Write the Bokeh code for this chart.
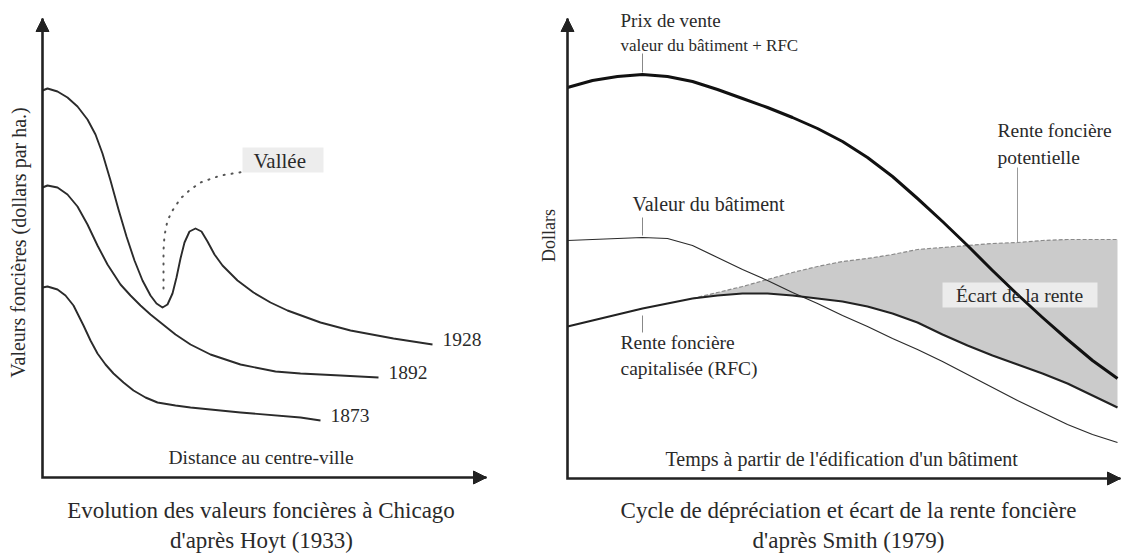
from bokeh.plotting import figure
from bokeh.layouts import row
from bokeh.models import Arrow, NormalHead, Range1d
from bokeh.core.properties import value
from bokeh.embed import file_html
from bokeh.resources import INLINE

FONT = "Liberation Serif"
INK = "#222222"
TXT = "#2a2a2a"

# ---------------- Left panel: Hoyt (1933) ----------------
dist_1928 = [0, 1, 3, 5, 7, 9, 10.6, 12, 13.6, 15.2, 16.8, 18.4, 20, 21.6, 22.8, 24, 25, 26, 26.8,
             27.6, 28.4, 29.4, 30.6, 31.8, 33, 34.4, 36, 37.6, 39, 42.2, 45.6, 49, 55.6, 61.6, 70.2, 78]
val_1928 = [77.4, 77.8, 77.2, 76, 74.2, 71.6, 68.6, 64.8, 59.4, 53.6, 48.2, 43.4, 39.4, 36.4, 34.8,
            34, 34.6, 36.8, 40, 43.8, 47, 49.2, 49.8, 49.2, 47.2, 44.6, 42.4, 40.8, 39.4, 37, 35,
            33.4, 31, 29.4, 27.8, 26.6]
dist_1892 = [0, 1, 3, 5, 7, 9, 11, 13, 15.6, 17.6, 19.6, 21.6, 23.6, 26.6, 29.6, 33.6, 39.6, 46.6,
             51.6, 59.6, 67.2]
val_1892 = [58, 58.4, 58, 56.6, 54.2, 50.6, 46.4, 42.6, 38.6, 36.4, 34.4, 32.6, 31, 28.6, 26.6,
            24.6, 22.6, 21.2, 20.8, 20.4, 20]
dist_1873 = [0, 1, 3, 4.6, 6.2, 8.2, 9.6, 11, 12.6, 14.2, 16.2, 18.2, 20.6, 23, 26.6, 29.6, 39.6, 51.6, 55.6]
val_1873 = [38, 38.2, 37.6, 36.4, 34.4, 30.4, 27.4, 24.8, 22.6, 20.8, 19, 17.4, 16, 15, 14.4, 14,
            13, 12, 11.4]
years = ["1928", "1892", "1873"]

vallee_x = [24.2, 24.2, 24.2, 24.4, 25, 26, 27.6, 29.6, 31.6, 35.6, 40.6]
vallee_y = [37.8, 42.4, 45.4, 48.4, 51.4, 53.4, 55.8, 57.6, 59, 60.4, 61.2]

# ---------------- Right panel: Smith (1979) ----------------
time = [0, 5, 10, 15, 20, 25, 30, 35, 40, 45, 50, 55, 60, 65, 70, 75, 80, 85, 90, 95, 100, 105, 110]
prix_vente = [78.2, 79.6, 80.4, 80.8, 80.4, 79.4, 77.8, 76, 74.2, 72.2, 70, 67.4, 64.2, 60.4, 56,
              51.4, 46.6, 41.6, 36.8, 32.2, 27.8, 23.6, 20]
valeur_batiment = [47.6, 47.8, 48, 48.2, 48, 46.6, 44.2, 41.8, 39.6, 37.2, 35, 32.6, 30.4, 28, 25.8,
                   23.4, 20.8, 18.2, 15.6, 13.2, 10.8, 8.8, 7.2]
rente_capitalisee = [30.4, 31.6, 32.8, 34, 35, 36, 36.6, 37, 37, 36.6, 36, 35.4, 34.4, 33, 31.2,
                     28.8, 26.6, 24.6, 22.8, 21, 19, 16.6, 14.2]
time_potentielle = time[5:]
rente_potentielle = [36, 37.2, 38.4, 39.8, 41.2, 42.4, 43.4, 44, 44.8, 45.8, 46.2, 46.6, 47, 47.2,
                     47.6, 47.8, 47.8, 47.8]


def base_fig(width, xr, yr):
    p = figure(width=width, height=555, x_range=Range1d(*xr), y_range=Range1d(*yr),
               output_backend="svg", toolbar_location=None, min_border=0,
               x_axis_location=None, y_axis_location=None)
    p.outline_line_color = None
    p.background_fill_color = "white"
    p.border_fill_color = "white"
    p.grid.visible = False
    return p


def txt(p, x, y, s, size, align="left", angle=0.0):
    p.text(x=[x], y=[y], text=[s], text_font=value(FONT), text_font_size=size,
           text_color=TXT, text_align=align, text_baseline="middle", angle=angle)


def axes(p, xtip, ytip):
    p.line([0, 0, xtip], [ytip, 0, 0], line_color=INK, line_width=2.6, line_join="miter")
    p.add_layout(Arrow(x_start=0, y_start=ytip - 4, x_end=0, y_end=ytip, line_alpha=0,
                       end=NormalHead(size=13, fill_color=INK, line_color=INK, line_width=1)))
    p.add_layout(Arrow(x_start=xtip - 4, y_start=0, x_end=xtip, y_end=0, line_alpha=0,
                       end=NormalHead(size=13, fill_color=INK, line_color=INK, line_width=1)))


# ---------- left figure ----------
L = base_fig(530, (-8.4, 97.6), (-15.6, 95.4))
L.quad(left=40, right=56.2, bottom=61, top=66, fill_color="#ededed", line_color=None)
L.line(vallee_x, vallee_y, line_color="#555555", line_width=2, line_dash="1 7", line_cap="round")
for d, v in ((dist_1928, val_1928), (dist_1892, val_1892), (dist_1873, val_1873)):
    L.line(d, v, line_color="#2b2b2b", line_width=1.9, line_join="round")
for yr, d, v in zip(years, (dist_1928, dist_1892, dist_1873), (val_1928, val_1892, val_1873)):
    txt(L, d[-1] + 2.0, v[-1] + 1.1, yr, "19.5px")
axes(L, 88.8, 91.8)
txt(L, 42.2, 63.4, "Vallée", "21px")
txt(L, 43.7, 4.0, "Distance au centre-ville", "19.5px", align="center")
txt(L, -4.8, 47, "Valeurs foncières (dollars par ha.)", "20px", align="center", angle=1.5707963)
txt(L, 43.7, -6.6, "Evolution des valeurs foncières à Chicago", "23px", align="center")
txt(L, 43.8, -12.6, "d'après Hoyt (1933)", "23px", align="center")

# ---------- right figure ----------
R = base_fig(593, (-7.4, 111.2), (-15.4, 95.6))
R.varea(x=time_potentielle, y1=rente_capitalisee[5:], y2=rente_potentielle, fill_color="#cbcbcb")
R.quad(left=75, right=106, bottom=34.2, top=39.2, fill_color="#ececec", line_color=None)
R.line(time_potentielle, rente_potentielle, line_color="#8a8a8a", line_width=1.2, line_dash="4 2")
R.line(time, valeur_batiment, line_color="#2b2b2b", line_width=1.2, line_join="round")
R.line(time, rente_capitalisee, line_color="#222222", line_width=2.2, line_join="round")
R.line(time, prix_vente, line_color="#111111", line_width=3.0, line_join="round")
# leader lines
i = 3
R.segment(x0=[time[i]] * 3,
          y0=[prix_vente[i] + 0.4, valeur_batiment[i] + 0.4, rente_capitalisee[i] - 1.4],
          x1=[time[i]] * 3,
          y1=[prix_vente[i] + 4.2, valeur_batiment[i] + 4.0, rente_capitalisee[i] - 4.8],
          line_color="#888888", line_width=1)
j = 18
R.segment(x0=[time[j]], y0=[rente_potentielle[j - 5]], x1=[time[j]], y1=[62.2],
          line_color="#999999", line_width=1)
axes(R, 110.6, 92)
txt(R, 10.6, 91.6, "Prix de vente", "19px")
txt(R, 10.6, 86.6, "valeur du bâtiment + RFC", "17px")
txt(R, 13.0, 55.0, "Valeur du bâtiment", "20px")
txt(R, 10.6, 27.2, "Rente foncière", "19.5px")
txt(R, 10.6, 22.0, "capitalisée (RFC)", "19.5px")
txt(R, 86.0, 69.6, "Rente foncière", "19.5px")
txt(R, 86.0, 64.2, "potentielle", "19.5px")
txt(R, 90.4, 36.6, "Écart de la rente", "19.5px", align="center")
txt(R, -3.8, 48.6, "Dollars", "18px", align="center", angle=1.5707963)
txt(R, 19.6, 4.0, "Temps à partir de l'édification d'un bâtiment", "20px")
txt(R, 56.2, -6.4, "Cycle de dépréciation et écart de la rente foncière", "23px", align="center")
txt(R, 56.2, -12.4, "d'après Smith (1979)", "23px", align="center")

layout = row(L, R)
open("out.html", "w").write(file_html(layout, INLINE))
